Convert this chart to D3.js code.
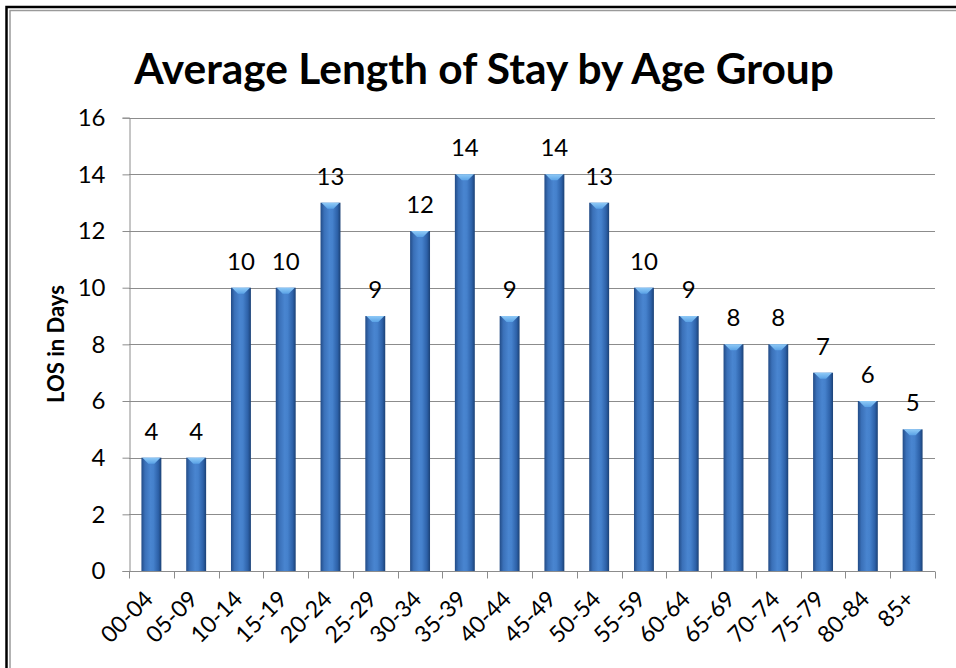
<!DOCTYPE html>
<html>
<head>
<meta charset="utf-8">
<script src="https://cdn.jsdelivr.net/npm/d3@7"></script>
<style>
  html, body { margin: 0; padding: 0; background: #fff; overflow: hidden; }
  svg { display: block; }
  text { font-family: Lato, "Open Sans", sans-serif; fill: #000; }
</style>
</head>
<body>
<svg id="chart" width="956" height="668"></svg>
<script>
// Age groups and their average length of stay (days)
const ageGroups = ["00-04","05-09","10-14","15-19","20-24","25-29","30-34","35-39","40-44",
                   "45-49","50-54","55-59","60-64","65-69","70-74","75-79","80-84","85+"];
const losDays   = [4, 4, 10, 10, 13, 9, 12, 14, 9, 14, 13, 10, 9, 8, 8, 7, 6, 5];
const yTicks    = [0, 2, 4, 6, 8, 10, 12, 14, 16];

const titleText = "Average Length of Stay by Age Group";
const yLabel    = "LOS in Days";

const svg = d3.select("#chart");
const W = 956, H = 668;
const plot = { left: 129, right: 935, top: 117.7, bottom: 571 };

// Frame: outer black rule plus thin grey inner rule (runs off the right/bottom edge)
svg.append("rect").attr("x", 6.5).attr("y", 7).attr("width", W + 20).attr("height", H + 20)
  .attr("fill", "none").attr("stroke", "#000").attr("stroke-width", 2.5);
svg.append("rect").attr("x", 10).attr("y", 10.5).attr("width", W + 20).attr("height", H + 20)
  .attr("fill", "none").attr("stroke", "#9a9a9a").attr("stroke-width", 1.5);

// Scales
const x = d3.scaleBand().domain(ageGroups).range([plot.left, plot.right]).paddingInner(0.555).paddingOuter(0.2775);
const xTickScale = d3.scaleBand().domain(ageGroups).range([plot.left, plot.right]);
const y = d3.scaleLinear().domain([0, 16]).range([plot.bottom, plot.top]);

// Gradients for the bevelled bars
const defs = svg.append("defs");
const bodyGrad = defs.append("linearGradient").attr("id", "barBody").attr("x1", "0").attr("x2", "1").attr("y1", "0").attr("y2", "0");
[[0, "#224b86"], [0.18, "#3a70b8"], [0.45, "#4985d0"], [0.6, "#4581cc"], [0.85, "#2d61a8"], [1, "#1b4175"]]
  .forEach(([o, c]) => bodyGrad.append("stop").attr("offset", o).attr("stop-color", c));
const capGrad = defs.append("linearGradient").attr("id", "barCap").attr("x1", "0").attr("x2", "0").attr("y1", "0").attr("y2", "1");
[[0, "#8fcaf7"], [1, "#5aa2e6"]].forEach(([o, c]) => capGrad.append("stop").attr("offset", o).attr("stop-color", c));

// Horizontal gridlines
svg.append("g").selectAll("line").data(yTicks.filter(d => d > 0)).join("line")
  .attr("x1", plot.left).attr("x2", plot.right)
  .attr("y1", d => Math.round(y(d)) + 0.5).attr("y2", d => Math.round(y(d)) + 0.5)
  .attr("stroke", "#8c8c8c").attr("stroke-width", 1);

// Y axis
const yAxis = svg.append("g").attr("transform", `translate(${plot.left + 0.5},0)`)
  .call(d3.axisLeft(y).tickValues(yTicks).tickSize(7).tickPadding(17));
yAxis.select(".domain").attr("stroke", "#8c8c8c");
yAxis.selectAll(".tick line").attr("stroke", "#8c8c8c");
yAxis.selectAll(".tick text").attr("font-size", 24).attr("font-family", "Lato, sans-serif").attr("fill", "#000");

// X axis with ticks between categories
const xAxisG = svg.append("g").attr("transform", `translate(0,${Math.round(plot.bottom) + 0.5})`);
xAxisG.append("line").attr("x1", plot.left).attr("x2", plot.right).attr("stroke", "#8c8c8c");
const boundaries = ageGroups.map(g => xTickScale(g)).concat([plot.right]);
xAxisG.selectAll("line.tk").data(boundaries).join("line").attr("class", "tk")
  .attr("x1", d => Math.round(d) + 0.5).attr("x2", d => Math.round(d) + 0.5)
  .attr("y1", 0).attr("y2", 7).attr("stroke", "#8c8c8c");
xAxisG.selectAll("text").data(ageGroups).join("text")
  .attr("transform", d => `translate(${x(d) + x.bandwidth() / 2 + 3},${29}) rotate(-45)`)
  .attr("text-anchor", "end")
  .attr("font-size", 23).text(d => d);

// Bars
const bars = svg.append("g").selectAll("g").data(ageGroups.map((g, i) => ({ g, v: losDays[i] }))).join("g");
bars.append("rect")
  .attr("x", d => x(d.g)).attr("width", x.bandwidth())
  .attr("y", d => y(d.v)).attr("height", d => y(0) - y(d.v))
  .attr("fill", "url(#barBody)");
bars.append("path")
  .attr("d", d => {
    const x0 = x(d.g), w = x.bandwidth(), t = y(d.v), c = x0 + w / 2;
    return `M${x0 + 1},${t} L${x0 + w - 1},${t} L${c + 3},${t + 6} L${c - 3},${t + 6} Z`;
  })
  .attr("fill", "url(#barCap)");

// Value labels
svg.append("g").selectAll("text").data(ageGroups.map((g, i) => ({ g, v: losDays[i] }))).join("text")
  .attr("x", d => x(d.g) + x.bandwidth() / 2)
  .attr("y", d => y(d.v) - 18)
  .attr("text-anchor", "middle").attr("font-size", 24)
  .text(d => d.v);

// Y axis title
svg.append("text")
  .attr("transform", "translate(64,344) rotate(-90)")
  .attr("text-anchor", "middle").attr("font-weight", "bold").attr("font-size", 22)
  .text(yLabel);

// Chart title, sized to span its measured width
const title = svg.append("text")
  .attr("x", 484).attr("y", 84).attr("text-anchor", "middle")
  .attr("font-weight", "bold").attr("font-size", 36).text(titleText);
const tw = title.node().getComputedTextLength();
title.attr("font-size", 36 * 700 / tw);
</script>
</body>
</html>
